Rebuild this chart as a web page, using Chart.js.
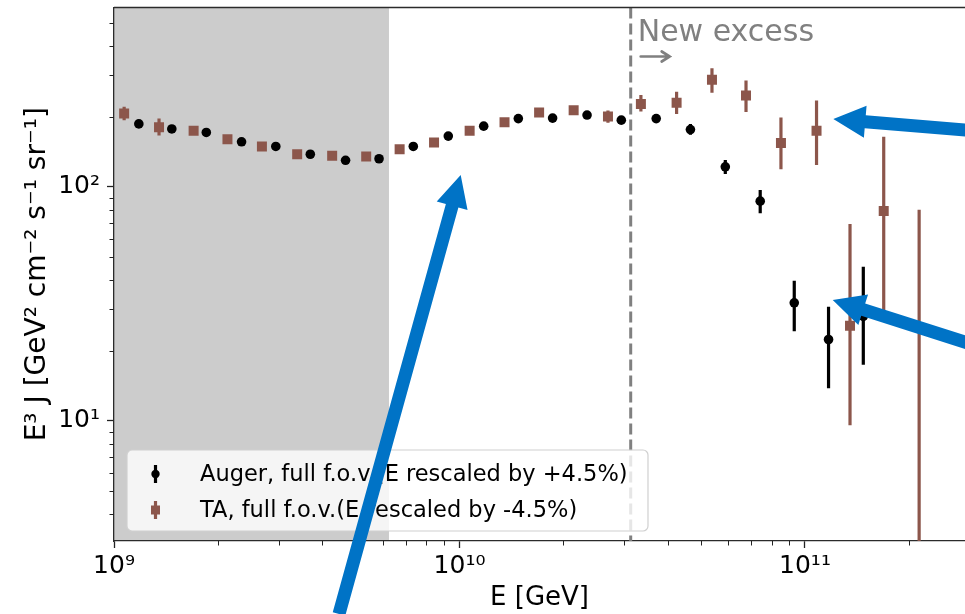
<!DOCTYPE html>
<html>
<head>
<meta charset="utf-8">
<script src="https://cdn.jsdelivr.net/npm/chart.js@4.4.0/dist/chart.umd.min.js"></script>
<style>
  html, body { margin: 0; padding: 0; background: #ffffff; overflow: hidden; }
  canvas { display: block; }
</style>
</head>
<body>
<canvas id="spectrum" width="965" height="614"></canvas>
<script>
// Auger, full field of view (energy scale shifted by +4.5%)
const augerEnergy = [1.18e9, 1.47e9, 1.85e9, 2.34e9, 2.94e9, 3.70e9, 4.68e9, 5.85e9, 7.35e9, 9.28e9,
  1.175e10, 1.48e10, 1.86e10, 2.34e10, 2.94e10, 3.71e10, 4.66e10, 5.88e10, 7.42e10, 9.31e10, 1.17e11, 1.475e11];
const augerFlux = [186, 177, 171, 156, 149, 138, 130, 132, 149, 165,
  182, 196, 197, 203, 193, 196, 176, 122, 87, 32, 22.3, 28];
const augerLow = [181, 172, 166, 152, 145, 134, 126, 128, 145, 160,
  177, 190, 191, 197, 187, 190, 167, 113.6, 77.2, 24.2, 13.8, 17.4];
const augerHigh = [191, 182, 176, 160, 153, 142, 134, 136, 153, 170,
  187, 202, 203, 209, 199, 202, 186, 130.4, 97.1, 39.7, 30.8, 45.6];

// TA, full field of view (energy scale shifted by -4.5%)
const taEnergy = [1.07e9, 1.35e9, 1.70e9, 2.13e9, 2.68e9, 3.39e9, 4.28e9, 5.37e9, 6.71e9, 8.44e9,
  1.07e10, 1.35e10, 1.70e10, 2.14e10, 2.69e10, 3.35e10, 4.25e10, 5.38e10, 6.75e10, 8.52e10,
  1.08e11, 1.35e11, 1.69e11, 2.14e11];
const taFlux = [206, 180, 174, 160, 149, 138, 136, 135, 145, 155,
  174, 189, 208, 213, 200, 226, 229, 287, 246, 154,
  174, 25.5, 79, 2.0];
const taLow = [193, 166, 169, 155, 145, 134, 132, 131, 141, 150,
  169, 183, 201, 205, 188, 210, 205, 253, 209, 119,
  124, 9.6, 29.8, 0.01];
const taHigh = [220, 196, 179, 165, 153, 142, 140, 139, 149, 160,
  179, 195, 215, 222, 212, 247, 255, 322, 285, 198,
  234, 69.5, 164, 80];

const seriesLabels = ['Auger, full f.o.v.(E rescaled by +4.5%)', 'TA, full f.o.v.(E rescaled by -4.5%)'];
const seriesColors = ['#000000', '#8c564b'];

const xTickValues = [1e9, 1e10, 1e11];
const xTickLabels = ['10⁹', '10¹⁰', '10¹¹'];
const yTickValues = [10, 100];
const yTickLabels = ['10¹', '10²'];
const xRange = [1e9, 2.905e11];
const yRange = [3.07, 584.8];

const lowEnergyBandEnd = 6.25e9;   // shaded low-energy band
const excessThreshold = 3.13e10;   // start of the new excess
const excessLabel = 'New excess';

// highlight arrows: [tail E, tail flux, tip E, tip flux]
const pointerArrows = [
  [4.48e9, 1.497, 1.008e10, 112.5],
  [3.003e11, 174.3, 1.208e11, 195.2],
  [3.003e11, 21.4, 1.203e11, 32.9]
];

const FONT = 'DejaVu Sans';

function toPoints(xs, ys) { return xs.map((x, i) => ({ x: x, y: ys[i] })); }

function minorValues(lo, hi) {
  const out = [];
  for (let d = Math.floor(Math.log10(lo)); d <= Math.ceil(Math.log10(hi)); d++) {
    for (let k = 2; k <= 9; k++) {
      const v = k * Math.pow(10, d);
      if (v > lo && v < hi) out.push(v);
    }
  }
  return out;
}

function blockArrow(ctx, x0, y0, x1, y1, shaftW, headW, headL) {
  const dx = x1 - x0, dy = y1 - y0, len = Math.hypot(dx, dy);
  const ux = dx / len, uy = dy / len, nx = -uy, ny = ux;
  const bx = x1 - ux * headL, by = y1 - uy * headL;
  const s = shaftW / 2, h = headW / 2;
  ctx.beginPath();
  ctx.moveTo(x0 + nx * s, y0 + ny * s);
  ctx.lineTo(bx + nx * s, by + ny * s);
  ctx.lineTo(bx + nx * h, by + ny * h);
  ctx.lineTo(x1, y1);
  ctx.lineTo(bx - nx * h, by - ny * h);
  ctx.lineTo(bx - nx * s, by - ny * s);
  ctx.lineTo(x0 - nx * s, y0 - ny * s);
  ctx.closePath();
  ctx.fill();
}

const decorations = {
  id: 'decorations',
  beforeDraw(chart) {
    const { ctx, chartArea: a, scales: { x } } = chart;
    ctx.save();
    ctx.fillStyle = '#cccccc';
    const xe = x.getPixelForValue(lowEnergyBandEnd);
    ctx.fillRect(a.left, a.top, xe - a.left, a.bottom - a.top);
    ctx.restore();
  },
  beforeDatasetsDraw(chart) {
    const { ctx, chartArea: a, scales: { x, y } } = chart;
    ctx.save();
    ctx.beginPath();
    ctx.rect(a.left, a.top, a.right - a.left, a.bottom - a.top);
    ctx.clip();
    // threshold line
    const xt = x.getPixelForValue(excessThreshold);
    ctx.strokeStyle = '#808080';
    ctx.lineWidth = 3;
    ctx.setLineDash([11, 5]);
    ctx.beginPath();
    ctx.moveTo(xt, a.top);
    ctx.lineTo(xt, a.bottom);
    ctx.stroke();
    ctx.setLineDash([]);
    // error bars
    chart.data.datasets.forEach(ds => {
      ctx.strokeStyle = ds.backgroundColor;
      ctx.lineWidth = 3.2;
      ds.data.forEach((p, i) => {
        const px = x.getPixelForValue(p.x);
        ctx.beginPath();
        ctx.moveTo(px, y.getPixelForValue(ds.errLow[i]));
        ctx.lineTo(px, y.getPixelForValue(ds.errHigh[i]));
        ctx.stroke();
      });
    });
    ctx.restore();
  },
  afterDraw(chart) {
    const { ctx, chartArea: a, scales: { x, y } } = chart;
    ctx.save();
    // top spine
    ctx.strokeStyle = '#2b2b2b';
    ctx.lineWidth = 1.3;
    ctx.beginPath();
    ctx.moveTo(a.left, a.top);
    ctx.lineTo(a.right, a.top);
    ctx.stroke();
    // minor ticks
    ctx.lineWidth = 1;
    ctx.strokeStyle = '#222';
    minorValues(xRange[0], xRange[1]).forEach(v => {
      const px = Math.round(x.getPixelForValue(v)) + 0.5;
      ctx.beginPath(); ctx.moveTo(px, a.bottom); ctx.lineTo(px, a.bottom + 4.5); ctx.stroke();
    });
    minorValues(yRange[0], yRange[1]).forEach(v => {
      const py = Math.round(y.getPixelForValue(v)) + 0.5;
      ctx.beginPath(); ctx.moveTo(a.left, py); ctx.lineTo(a.left - 4.5, py); ctx.stroke();
    });

    // "New excess" marker
    const xt = x.getPixelForValue(excessThreshold);
    ctx.fillStyle = '#808080';
    ctx.font = '30px "' + FONT + '"';
    ctx.textBaseline = 'alphabetic';
    ctx.textAlign = 'left';
    ctx.fillText(excessLabel, xt + 7, a.top + 33);
    ctx.strokeStyle = '#808080';
    ctx.lineWidth = 2.7;
    ctx.lineCap = 'round';
    ctx.beginPath();
    ctx.moveTo(xt + 10, a.top + 49);
    ctx.lineTo(xt + 39, a.top + 49);
    ctx.moveTo(xt + 31, a.top + 44);
    ctx.lineTo(xt + 39, a.top + 49);
    ctx.lineTo(xt + 31, a.top + 54);
    ctx.stroke();
    ctx.lineCap = 'butt';

    // legend
    const lx = a.left + 13, ly = a.bottom - 91, lw = 521, lh = 81;
    ctx.fillStyle = 'rgba(255,255,255,0.8)';
    ctx.strokeStyle = '#d0d0d0';
    ctx.lineWidth = 1.2;
    ctx.beginPath();
    ctx.roundRect(lx, ly, lw, lh, 5);
    ctx.fill();
    ctx.stroke();
    ctx.font = '22.5px "' + FONT + '"';
    ctx.textBaseline = 'middle';
    chart.data.datasets.forEach((ds, i) => {
      const cy = ly + 24 + i * 36;
      const cx = lx + 28.5;
      ctx.strokeStyle = ds.backgroundColor;
      ctx.fillStyle = ds.backgroundColor;
      ctx.lineWidth = 3.2;
      ctx.beginPath(); ctx.moveTo(cx, cy - 9); ctx.lineTo(cx, cy + 9); ctx.stroke();
      if (ds.pointStyle === 'circle') {
        ctx.beginPath(); ctx.arc(cx, cy, 4.2, 0, Math.PI * 2); ctx.fill();
      } else {
        ctx.fillRect(cx - 4.5, cy - 4.5, 9, 9);
      }
      ctx.fillStyle = '#000';
      ctx.fillText(ds.label, lx + 73, cy + 1);
    });

    // highlight arrows
    ctx.fillStyle = '#0073c6';
    pointerArrows.forEach(([e0, f0, e1, f1]) => {
      blockArrow(ctx, x.getPixelForValue(e0), y.getPixelForValue(f0),
        x.getPixelForValue(e1), y.getPixelForValue(f1), 13, 32, 32);
    });
    ctx.restore();
  }
};

function zeroPadding(s) {
  s.paddingTop = 0; s.paddingBottom = 0; s.paddingLeft = 0; s.paddingRight = 0;
}

new Chart(document.getElementById('spectrum'), {
  type: 'scatter',
  data: {
    datasets: [
      {
        label: seriesLabels[0],
        data: toPoints(augerEnergy, augerFlux),
        errLow: augerLow,
        errHigh: augerHigh,
        pointStyle: 'circle',
        pointRadius: 4.8,
        pointBorderWidth: 0,
        backgroundColor: seriesColors[0],
        borderColor: seriesColors[0],
        showLine: false
      },
      {
        label: seriesLabels[1],
        data: toPoints(taEnergy, taFlux),
        errLow: taLow,
        errHigh: taHigh,
        pointStyle: 'rect',
        pointRadius: 7.07,
        pointBorderWidth: 0,
        backgroundColor: seriesColors[1],
        borderColor: seriesColors[1],
        showLine: false
      }
    ]
  },
  options: {
    responsive: false,
    animation: false,
    devicePixelRatio: 1,
    events: [],
    layout: { autoPadding: false, padding: { top: 7.5, right: 0, left: 0, bottom: 0 } },
    plugins: { legend: { display: false }, tooltip: { enabled: false } },
    scales: {
      x: {
        type: 'logarithmic',
        position: 'bottom',
        min: xRange[0],
        max: xRange[1],
        afterBuildTicks: s => { s.ticks = xTickValues.map(v => ({ value: v })); },
        afterFit: s => { s.height = 73; zeroPadding(s); },
        ticks: {
          callback: (v, i) => xTickLabels[i],
          font: { family: FONT, size: 25 },
          color: '#000',
          padding: 3,
          maxRotation: 0,
          autoSkip: false
        },
        grid: { display: true, drawOnChartArea: false, drawTicks: true, tickLength: 7, tickWidth: 1.3, tickColor: '#222' },
        border: { display: true, color: '#2b2b2b', width: 1.3 },
        title: { display: true, text: 'E [GeV]', font: { family: FONT, size: 26 }, color: '#000', padding: { top: 0, bottom: 0 } }
      },
      y: {
        type: 'logarithmic',
        position: 'left',
        min: yRange[0],
        max: yRange[1],
        afterBuildTicks: s => { s.ticks = yTickValues.map(v => ({ value: v })); },
        afterFit: s => { s.width = 114; zeroPadding(s); },
        ticks: {
          callback: (v, i) => yTickLabels[i],
          font: { family: FONT, size: 25 },
          color: '#000',
          padding: 7,
          autoSkip: false
        },
        grid: { display: true, drawOnChartArea: false, drawTicks: true, tickLength: 7, tickWidth: 1.3, tickColor: '#222' },
        border: { display: true, color: '#2b2b2b', width: 1.3 },
        title: { display: true, text: 'E³ J [GeV² cm⁻² s⁻¹ sr⁻¹]', font: { family: FONT, size: 28 }, color: '#000', padding: { top: 21, bottom: 0 } }
      }
    }
  },
  plugins: [decorations]
});
</script>
</body>
</html>
